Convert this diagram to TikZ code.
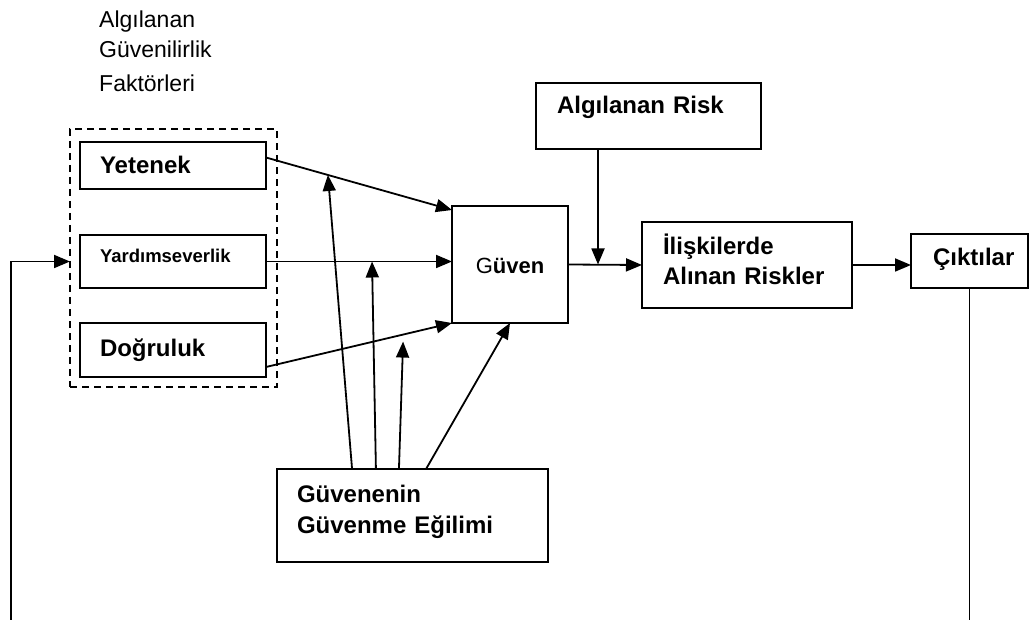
\documentclass[tikz,border=0pt]{standalone}
\usepackage{fontspec}
\setmainfont{Liberation Sans}
\usetikzlibrary{arrows.meta, calc}

\begin{document}
\begin{tikzpicture}[
            x=1pt, y=-1pt,
            kutu/.style={draw, rectangle, line width=1.8pt, outer sep=0pt, inner ysep=0pt, align=left, anchor=north west, font=\bfseries\fontsize{24}{30}\selectfont}, % boxes
            ok/.style={line width=1.8pt, -{Triangle[length=16pt, width=13pt]}}, % arrows
            cizgi/.style={line width=1.8pt} % plain lines
            ]

                \useasboundingbox (0,0) rectangle (1033,620);

                % heading over the dashed group
                \node[anchor=base west, align=left, text width=200pt, inner sep=0pt, font=\fontsize{23}{30}\selectfont] (baslik) at (99,28) {Algılanan\\Güvenilirlik\\[4pt]Faktörleri};
                \node[draw, dash pattern=on 7pt off 5pt, line width=1.8pt, inner sep=0pt, outer sep=0pt, anchor=north west, minimum width=207pt, minimum height=258pt] (cerceve) at (70,129) {};

                % boxes
                \node[kutu, inner xsep=20pt, text width=146pt, text height=32pt, text depth=15pt] (yet) at (80,142) {Yetenek};
                \node[kutu, inner xsep=20pt, text width=146pt, text height=27pt, text depth=26pt, font=\bfseries\fontsize{18.5}{22}\selectfont] (yard) at (80,235) {Yardımseverlik};
                \node[kutu, inner xsep=20pt, text width=146pt, text height=33pt, text depth=21pt] (dog) at (80,323) {Doğruluk};
                \node[kutu, inner xsep=0pt, text width=116pt, align=center, text height=67pt, text depth=50pt, font=\bfseries\fontsize{22}{26}\selectfont] (guven) at (452,206) {{\mdseries G}üven};
                \node[kutu, inner xsep=21pt, text width=183pt, text height=31pt, text depth=35pt] (risk) at (536,83) {Algılanan Risk};
                \node[kutu, inner xsep=21pt, text width=168pt, text height=33pt, text depth=53pt] (iliski) at (642,222) {İlişkilerde\\Alınan Riskler};
                \node[kutu, inner xsep=22pt, text width=73pt, text height=32pt, text depth=22pt] (cikti) at (911,234) {\mbox{Çıktılar}};
                \node[kutu, inner xsep=20pt, text width=231pt, text height=33pt, text depth=60pt, font=\bfseries\fontsize{24}{31}\selectfont] (egilim) at (277,469) {Güvenenin\\Güvenme Eğilimi};

                % into Güven
                \draw[ok] ($(yet.east)+(0,-8)$) -- coordinate[pos=0.333] (y1) ($(guven.north west)+(0,4)$);
                \draw[ok] (yard.east) -- coordinate[pos=0.57] (y2) (yard.east -| guven.west);
                \draw[ok] ($(dog.east)+(0,17)$) -- coordinate[pos=0.737] (y3) (guven.south west);

                % from the propensity box
                \draw[ok] ($(egilim.north west)!0.277!(egilim.north east)$) -- (y1);
                \draw[ok] ($(egilim.north west)!0.365!(egilim.north east)$) -- (y2);
                \draw[ok] ($(egilim.north west)!0.45!(egilim.north east)$) -- ($(y3)+(0,7)$);
                \draw[ok] ($(egilim.north west)!0.55!(egilim.north east)$) -- (guven.south);

                % risk chain
                \coordinate (rk) at ($(risk.south west)+(62,0)$);
                \draw[ok] (rk) -- (rk |- guven.east);
                \draw[ok] (guven.east) -- (iliski.west);
                \draw[ok] (iliski.east) -- (iliski.east -| cikti.west);

                % feedback
                \coordinate (alt) at (11,620);
                \draw[cizgi] (cikti.south) -- (cikti.south |- alt);
                \draw[ok] (alt) |- (cerceve.west |- yard.west);

            \end{tikzpicture}
\end{document}
